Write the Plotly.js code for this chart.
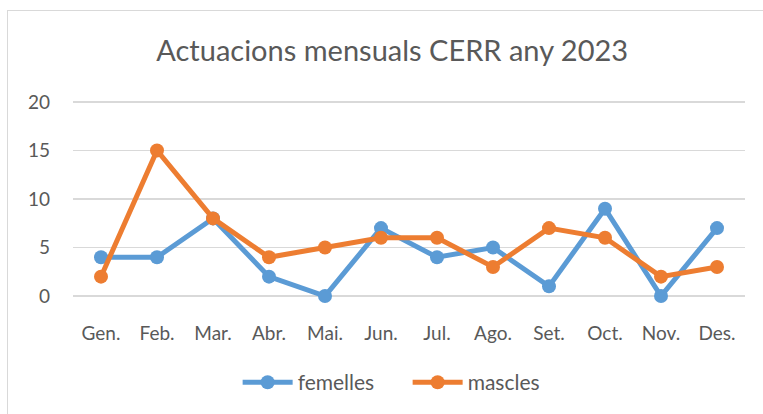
<!DOCTYPE html>
<html>
<head>
<meta charset="utf-8">
<script src="https://cdn.plot.ly/plotly-3.0.1.min.js"></script>
<style>
  html, body { margin: 0; padding: 0; background: #fff; overflow: hidden; }
  #frame { position: absolute; left: 7px; top: 10px; width: 900px; height: 500px; border: 1px solid #d9d9d9; }
  #chart { position: absolute; left: 0; top: 0; width: 763px; height: 414px; }
</style>
</head>
<body>
<div id="frame"></div>
<div id="chart"></div>
<script>
const months = ["Gen.", "Feb.", "Mar.", "Abr.", "Mai.", "Jun.", "Jul.", "Ago.", "Set.", "Oct.", "Nov.", "Des."];
const femelles = [4, 4, 8, 2, 0, 7, 4, 5, 1, 9, 0, 7];
const mascles = [2, 15, 8, 4, 5, 6, 6, 3, 7, 6, 2, 3];
const yTicks = [0, 5, 10, 15, 20];

const fontFam = "Lato, Open Sans, sans-serif";
const textColor = "#595959";

const traces = [
  { x: months, y: femelles, name: "femelles", type: "scatter", mode: "lines+markers",
    line: { color: "#5B9BD5", width: 5 }, marker: { color: "#5B9BD5", size: 14 }, cliponaxis: false },
  { x: months, y: mascles, name: "mascles", type: "scatter", mode: "lines+markers",
    line: { color: "#ED7D31", width: 5 }, marker: { color: "#ED7D31", size: 14 }, cliponaxis: false }
];

const layout = {
  width: 763, height: 414,
  paper_bgcolor: "rgba(0,0,0,0)", plot_bgcolor: "rgba(0,0,0,0)",
  margin: { l: 73, r: 18, t: 100, b: 115 },
  title: { text: "Actuacions mensuals CERR any 2023", x: 0.514, xanchor: "center", y: 0.878, yanchor: "middle",
           font: { family: fontFam, size: 29, color: textColor } },
  xaxis: { type: "category", showgrid: false, zeroline: false, showline: false,
           tickfont: { family: fontFam, size: 19, color: textColor }, ticklabelstandoff: 22, range: [-0.5, 11.5] },
  yaxis: { range: [-0.2, 20.2], tickvals: yTicks, showgrid: true, gridcolor: "#d9d9d9", gridwidth: 1.5,
           zeroline: false, showline: false,
           tickfont: { family: fontFam, size: 19, color: textColor }, ticklabelstandoff: 22 },
  legend: { orientation: "h", x: 0.245, xanchor: "left", y: -0.42, yanchor: "middle",
            font: { family: fontFam, size: 21, color: textColor }, itemwidth: 50, entrywidth: 105 },
  showlegend: true
};

Plotly.newPlot("chart", traces, layout, { displayModeBar: false, staticPlot: true });
</script>
</body>
</html>
